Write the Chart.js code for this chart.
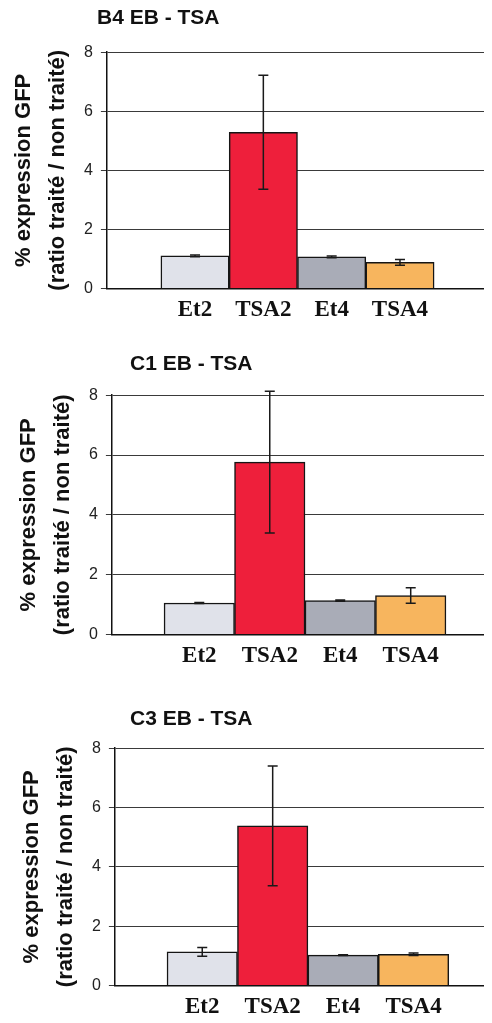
<!DOCTYPE html>
<html>
<head>
<meta charset="utf-8">
<script src="https://cdn.jsdelivr.net/npm/chart.js@4.4.0/dist/chart.umd.min.js"></script>
<style>
  html, body { margin: 0; padding: 0; background: #fff; }
  body { width: 492px; height: 1023px; position: relative; overflow: hidden; }
  .panel { position: absolute; }
</style>
</head>
<body>
<div class="panel" id="box1"><canvas id="chart1"></canvas></div>
<div class="panel" id="box2"><canvas id="chart2"></canvas></div>
<div class="panel" id="box3"><canvas id="chart3"></canvas></div>
<script>
const categories = ['Et2', 'TSA2', 'Et4', 'TSA4'];
const panelTitles = ['B4 EB - TSA', 'C1 EB - TSA', 'C3 EB - TSA'];
const yTitle = ['% expression GFP', '(ratio traité / non traité)'];
const yTicks = [0, 2, 4, 6, 8];

const b4Values = [1.10, 5.29, 1.07, 0.88];
const b4Errors = [0.03, 1.93, 0.03, 0.10];
const c1Values = [1.05, 5.76, 1.13, 1.30];
const c1Errors = [0.02, 2.37, 0.02, 0.26];
const c3Values = [1.13, 5.38, 1.02, 1.05];
const c3Errors = [0.15, 2.02, 0.01, 0.04];

const barColors = ['#e0e2ea', '#ee1f3b', '#a9acb7', '#f7b55e'];

// layout per panel (position of each chart on the page)
const panels = [
  { canvas: 'chart1', box: 'box1', values: b4Values, errors: b4Errors, title: panelTitles[0],
    left: 0, top: 0, width: 484, height: 324, titlePad: { top: 6, bottom: 21 }, titleX: 97, xMin: -1.29, xMax: 4.23 },
  { canvas: 'chart2', box: 'box2', values: c1Values, errors: c1Errors, title: panelTitles[1],
    left: 5, top: 340, width: 479, height: 330, titlePad: { top: 12, bottom: 18 }, titleX: 125, xMin: -1.24, xMax: 4.04 },
  { canvas: 'chart3', box: 'box3', values: c3Values, errors: c3Errors, title: panelTitles[2],
    left: 8, top: 690, width: 476, height: 331, titlePad: { top: 17, bottom: 16 }, titleX: 122, xMin: -1.24, xMax: 4.0 }
];

const errorBars = {
  id: 'errorBars',
  afterDatasetsDraw(chart, args, opts) {
    const { ctx } = chart;
    const y = chart.scales.y;
    const meta = chart.getDatasetMeta(0);
    const data = chart.data.datasets[0].data;
    ctx.save();
    ctx.strokeStyle = '#1a1a1a';
    ctx.lineWidth = 1.5;
    meta.data.forEach((bar, i) => {
      const v = data[i].y;
      const e = opts.errors[i];
      const top = y.getPixelForValue(v + e);
      const bot = y.getPixelForValue(v - e);
      ctx.beginPath();
      ctx.moveTo(bar.x, top);
      ctx.lineTo(bar.x, bot);
      ctx.moveTo(bar.x - 5, top);
      ctx.lineTo(bar.x + 5, top);
      ctx.moveTo(bar.x - 5, bot);
      ctx.lineTo(bar.x + 5, bot);
      ctx.stroke();
    });
    ctx.restore();
  }
};

// move the title to its place left of centre
const titleShift = {
  id: 'titleShift',
  afterLayout(chart, args, opts) {
    if (chart.titleBlock) chart.titleBlock.left += opts.x;
  }
};

panels.forEach(p => {
  const box = document.getElementById(p.box);
  box.style.left = p.left + 'px';
  box.style.top = p.top + 'px';
  box.style.width = p.width + 'px';
  box.style.height = p.height + 'px';

  new Chart(document.getElementById(p.canvas), {
    type: 'bar',
    data: {
      datasets: [{
        data: p.values.map((v, i) => ({ x: i, y: v })),
        backgroundColor: barColors,
        borderColor: '#151515',
        borderWidth: 1.5,
        barPercentage: 1,
        categoryPercentage: 1
      }]
    },
    options: {
      responsive: true,
      maintainAspectRatio: false,
      animation: false,
      devicePixelRatio: 1,
      layout: { padding: 0 },
      plugins: {
        legend: { display: false },
        tooltip: { enabled: false },
        title: {
          display: true,
          text: p.title,
          align: 'start',
          color: '#111',
          font: { family: 'Liberation Sans, Arial, sans-serif', size: 21, weight: 'bold' },
          padding: p.titlePad
        },
        titleShift: { x: p.titleX },
        errorBars: { errors: p.errors }
      },
      scales: {
        x: {
          type: 'linear',
          offset: false,
          bounds: 'data',
          min: p.xMin,
          max: p.xMax,
          afterBuildTicks: s => { s.ticks = categories.map((c, i) => ({ value: i })); },
          ticks: {
            callback: v => categories[v],
            autoSkip: false,
            maxRotation: 0,
            padding: 0,
            color: '#111',
            font: { family: 'Liberation Serif, Times New Roman, serif', size: 23, weight: 'bold' }
          },
          grid: { display: true, offset: false, drawOnChartArea: false, drawTicks: true, tickLength: 8, color: 'rgba(0,0,0,0)' },
          border: { display: true, color: '#111', width: 1.5 }
        },
        y: {
          min: 0,
          max: 8,
          afterBuildTicks: s => { s.ticks = yTicks.map(v => ({ value: v })); },
          ticks: {
            padding: 8,
            color: '#222',
            font: { family: 'Liberation Sans, Arial, sans-serif', size: 16 }
          },
          grid: { color: '#3a3a3a', lineWidth: 1, tickLength: 6 },
          border: { color: '#111', width: 1.5 },
          title: {
            display: true,
            text: yTitle,
            color: '#111',
            font: { family: 'Liberation Sans, Arial, sans-serif', size: 22, weight: 'bold', lineHeight: 34 / 22 },
            padding: { top: 7, bottom: 1 }
          }
        },
        y2: {
          position: 'right',
          min: 0,
          max: 8,
          ticks: { display: false },
          grid: { display: false, drawTicks: false, tickLength: 0 },
          border: { display: true, color: '#555', width: 1 }
        }
      }
    },
    plugins: [errorBars, titleShift]
  });
});
</script>
</body>
</html>
